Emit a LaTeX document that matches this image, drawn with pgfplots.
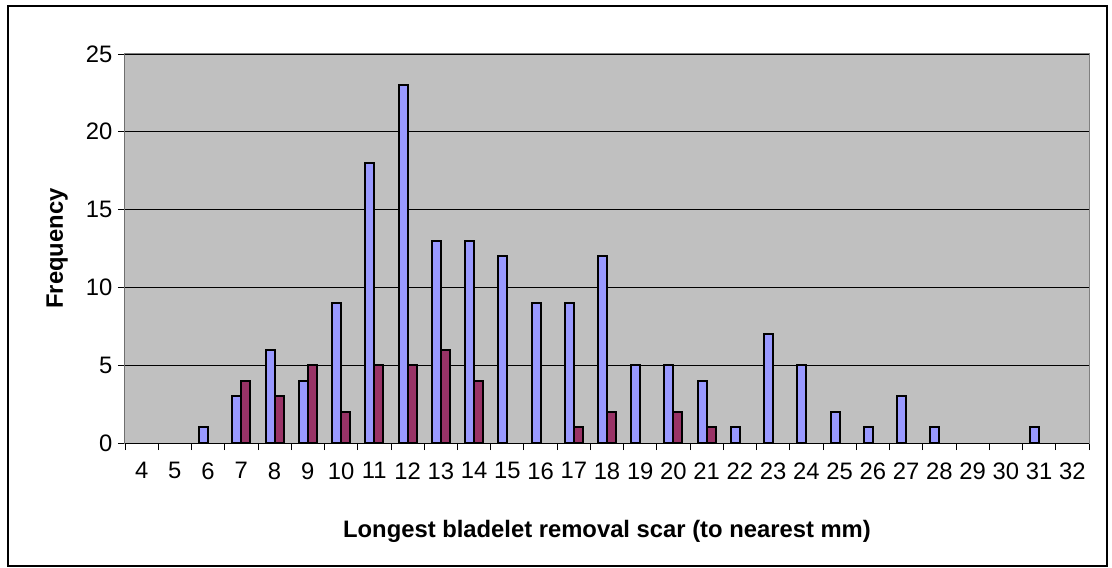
\documentclass[border=0pt]{standalone}
\usepackage{pgfplots}
\pgfplotsset{compat=1.18}
\usepackage{fontspec}
\setmainfont{Liberation Sans}
\definecolor{barblue}{HTML}{9999FF}
\definecolor{barmaroon}{HTML}{993366}
\definecolor{plotgray}{HTML}{C0C0C0}
\definecolor{bordergray}{HTML}{808080}
\begin{document}
\begin{tikzpicture}
\path[use as bounding box] (-125pt,-125pt) rectangle (987pt,443pt);
\draw[black, line width=2.5pt] (-117pt,-123pt) rectangle (982pt,437pt);
\begin{axis}[
  at={(0,0)}, anchor=south west,
  scale only axis, width=964pt, height=389pt,
  xmin=3.5, xmax=32.5, ymin=0, ymax=25,
  ybar=0pt, bar width=9pt,
  axis background/.style={fill=plotgray},
  axis line style={draw=bordergray, line width=1pt},
  xtick={3.5,4.5,...,32.5},
  xticklabels={4,5,6,7,8,9,10,11,12,13,14,15,16,17,18,19,20,21,22,23,24,25,26,27,28,29,30,31,32,{}},
  xticklabel style={xshift=16.62pt, yshift=-9pt},
  ytick={0,5,...,25},
  yticklabel style={xshift=-2pt},
  xtick pos=bottom, ytick pos=left,
  tick align=outside, major tick length=7pt,
  tick style={black, line width=0.8pt},
  ymajorgrids, major grid style={black, line width=0.9pt},
  tick label style={font=\fontsize{23.8}{27}\selectfont},
  /pgf/number format/assume math mode=true,
  xlabel={Longest bladelet removal scar (to nearest mm)},
  ylabel={Frequency},
  label style={font=\fontsize{23.8}{27}\selectfont\bfseries},
  xlabel style={at={(axis description cs:0.5,-0.226)}, anchor=center},
  ylabel style={at={(axis description cs:-0.0705,0.5)}, anchor=center, rotate=0},
]
\addplot[fill=barblue, draw=black, line width=2pt] coordinates {
 (6,1) (7,3) (8,6) (9,4) (10,9) (11,18) (12,23) (13,13) (14,13) (15,12)
 (16,9) (17,9) (18,12) (19,5) (20,5) (21,4) (22,1) (23,7) (24,5) (25,2)
 (26,1) (27,3) (28,1) (31,1)
};
\addplot[fill=barmaroon, draw=black, line width=2pt] coordinates {
 (7,4) (8,3) (9,5) (10,2) (11,5) (12,5) (13,6) (14,4) (17,1) (18,2) (20,2) (21,1)
};
\draw[black, line width=1pt] (rel axis cs:0,0) -- (rel axis cs:0,1);
\draw[black, line width=1pt] (rel axis cs:0,0) -- (rel axis cs:1,0);
\end{axis}
\end{tikzpicture}
\end{document}
